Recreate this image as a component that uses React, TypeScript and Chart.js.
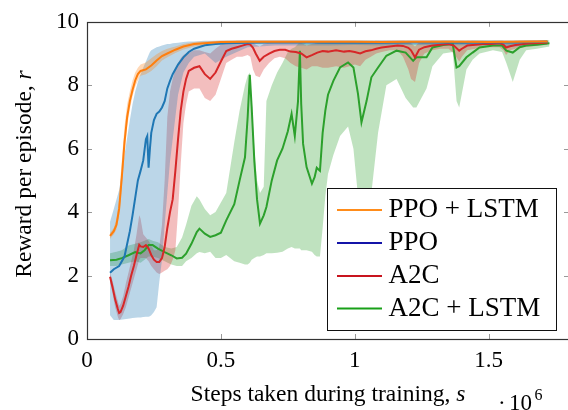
import React, { useEffect, useRef } from 'react';
import { Chart, registerables } from 'chart.js';

Chart.register(...registerables);

// ---------- data (steps in units of 10^6, reward per episode) ----------
const xTickValues = [0, 0.5, 1, 1.5];
const yTickValues = [0, 2, 4, 6, 8, 10];
const seriesNames = ['PPO + LSTM', 'PPO', 'A2C', 'A2C + LSTM'];

const orangeX = [0.086, 0.10, 0.11, 0.12, 0.125, 0.13, 0.14, 0.15, 0.16, 0.17,
  0.18, 0.19, 0.20, 0.22, 0.24, 0.26, 0.28, 0.30, 0.33, 0.36,
  0.40, 0.45, 0.50, 0.60, 0.70, 0.80, 0.90, 1.00, 1.10, 1.20,
  1.30, 1.40, 1.50, 1.60, 1.72];
const orangeY = [3.25, 3.4, 3.6, 4.1, 4.6, 5.1, 6.2, 7.0, 7.5, 7.85,
  8.15, 8.35, 8.45, 8.5, 8.62, 8.78, 8.92, 9.0, 9.12, 9.22,
  9.3, 9.33, 9.36, 9.37, 9.37, 9.37, 9.37, 9.37, 9.36, 9.37,
  9.37, 9.37, 9.36, 9.37, 9.38];
const orangeLo = [3.15, 3.3, 3.45, 3.85, 4.3, 4.8, 5.8, 6.7, 7.25, 7.65,
  7.95, 8.15, 8.3, 8.35, 8.45, 8.6, 8.78, 8.88, 9.02, 9.13,
  9.22, 9.27, 9.31, 9.33, 9.33, 9.33, 9.33, 9.33, 9.32, 9.33,
  9.33, 9.33, 9.32, 9.33, 9.34];
const orangeHi = [3.35, 3.5, 3.8, 4.4, 5.1, 5.6, 6.7, 7.4, 7.8, 8.15,
  8.4, 8.55, 8.65, 8.72, 8.85, 8.98, 9.08, 9.15, 9.22, 9.3,
  9.36, 9.39, 9.41, 9.41, 9.41, 9.41, 9.41, 9.41, 9.4, 9.41,
  9.41, 9.41, 9.4, 9.41, 9.42];

const blueX = [0.086, 0.10, 0.12, 0.14, 0.16, 0.17, 0.18, 0.19, 0.20, 0.21,
  0.22, 0.225, 0.23, 0.235, 0.24, 0.25, 0.26, 0.27, 0.28, 0.29,
  0.30, 0.31, 0.32, 0.34, 0.36, 0.38, 0.40, 0.44, 0.48, 0.52,
  0.60, 0.70, 0.80, 0.90, 1.00, 1.10, 1.20, 1.30, 1.40, 1.50,
  1.60, 1.72];
const blueY = [2.09, 2.2, 2.3, 2.6, 3.4, 3.9, 4.45, 5.0, 5.3, 5.63,
  6.3, 6.4, 5.4, 6.0, 6.5, 6.9, 7.1, 7.17, 7.3, 7.5,
  7.9, 8.14, 8.35, 8.65, 8.88, 9.05, 9.15, 9.26, 9.3, 9.32,
  9.34, 9.35, 9.35, 9.34, 9.35, 9.34, 9.35, 9.35, 9.34, 9.35,
  9.35, 9.37];
const blueLo = [0.75, 0.6, 0.6, 0.62, 0.65, 0.66, 0.67, 0.68, 0.68, 0.69,
  0.7, 0.7, 0.7, 0.72, 0.75, 0.85, 1.0, 1.8, 2.5, 3.6,
  4.6, 5.6, 6.3, 7.7, 8.4, 8.7, 8.9, 9.0, 8.7, 8.9,
  9.2, 9.25, 9.25, 9.25, 9.27, 9.25, 9.27, 9.26, 9.26, 9.25,
  9.22, 9.3];
const blueHi = [3.7, 4.1, 4.7, 5.8, 6.9, 7.4, 7.8, 8.1, 8.35, 8.55,
  8.75, 8.85, 8.95, 9.05, 9.1, 9.15, 9.2, 9.22, 9.25, 9.28,
  9.3, 9.3, 9.32, 9.34, 9.36, 9.38, 9.38, 9.4, 9.4, 9.41,
  9.42, 9.42, 9.42, 9.42, 9.42, 9.42, 9.42, 9.42, 9.42, 9.42,
  9.42, 9.43];

const redX = [0.086, 0.095, 0.105, 0.115, 0.12, 0.125, 0.135, 0.145, 0.155, 0.165,
  0.175, 0.185, 0.195, 0.20, 0.21, 0.22, 0.23, 0.24, 0.25, 0.26,
  0.27, 0.28, 0.29, 0.30, 0.31, 0.32, 0.33, 0.34, 0.35, 0.36,
  0.37, 0.38, 0.40, 0.42, 0.44, 0.46, 0.48, 0.50, 0.52, 0.54,
  0.56, 0.58, 0.60, 0.61, 0.62, 0.63, 0.645, 0.66, 0.68, 0.70,
  0.72, 0.74, 0.76, 0.78, 0.80, 0.82, 0.84, 0.86, 0.88, 0.90,
  0.93, 0.96, 0.98, 1.00, 1.02, 1.04, 1.06, 1.08, 1.10, 1.13,
  1.16, 1.18, 1.20, 1.21, 1.225, 1.24, 1.26, 1.29, 1.32, 1.35,
  1.37, 1.39, 1.40, 1.42, 1.45, 1.48, 1.51, 1.54, 1.555, 1.565,
  1.58, 1.60, 1.63, 1.66, 1.69, 1.72];
const redY = [1.96, 1.65, 1.25, 0.95, 0.82, 0.85, 1.05, 1.35, 1.65, 2.0,
  2.3, 2.65, 2.97, 2.92, 2.9, 2.96, 2.85, 2.65, 2.5, 2.43,
  2.43, 2.55, 2.9, 3.5, 4.0, 4.4, 5.3, 6.3, 7.2, 7.8,
  8.2, 8.45, 8.55, 8.6, 8.35, 8.2, 8.4, 8.75, 9.08, 9.15,
  9.2, 9.25, 9.3, 9.28, 9.18, 9.0, 8.77, 8.9, 9.0, 9.08,
  9.12, 9.12, 9.06, 9.05, 9.0, 8.88, 8.95, 9.03, 9.08, 9.06,
  9.1, 9.06, 9.08, 9.05, 9.0, 9.07, 9.1, 9.15, 9.19, 9.22,
  9.25, 9.24, 9.18, 9.1, 8.88, 9.12, 9.2, 9.25, 9.28, 9.3,
  9.25, 9.09, 9.15, 9.25, 9.28, 9.3, 9.3, 9.32, 9.28, 9.19,
  9.23, 9.27, 9.3, 9.32, 9.33, 9.35];
const redLo = [1.8, 1.45, 1.0, 0.7, 0.6, 0.62, 0.78, 1.0, 1.3, 1.6,
  1.9, 2.2, 2.5, 2.55, 2.55, 2.55, 2.45, 2.3, 2.2, 2.1,
  2.05, 2.1, 2.15, 2.2, 2.3, 2.5, 2.8, 4.0, 5.5, 6.8,
  7.4, 7.8, 7.9, 7.9, 7.6, 7.5, 7.7, 8.2, 8.7, 8.8,
  8.9, 8.9, 8.95, 8.9, 8.5, 8.3, 8.25, 8.5, 8.7, 8.85,
  8.9, 8.85, 8.7, 8.6, 8.55, 8.5, 8.6, 8.6, 8.55, 8.55,
  8.6, 8.55, 8.6, 8.65, 8.6, 8.8, 8.9, 9.0, 9.05, 9.1,
  9.1, 8.9, 8.5, 8.2, 8.1, 8.7, 9.0, 9.1, 9.15, 9.15,
  9.0, 8.75, 8.9, 9.1, 9.15, 9.2, 9.2, 9.2, 9.1, 8.95,
  9.1, 9.15, 9.2, 9.22, 9.25, 9.28];
const redHi = [2.1, 1.85, 1.5, 1.2, 1.05, 1.1, 1.35, 1.75, 2.1, 2.45,
  2.8, 3.3, 3.9, 3.8, 3.3, 3.2, 3.1, 2.95, 2.8, 2.8,
  2.9, 3.6, 5.0, 7.0, 7.8, 8.2, 8.5, 8.7, 8.85, 8.95,
  9.0, 9.02, 9.1, 9.1, 9.05, 9.0, 9.15, 9.28, 9.35, 9.38,
  9.4, 9.4, 9.4, 9.4, 9.36, 9.28, 9.22, 9.3, 9.35, 9.38,
  9.38, 9.38, 9.36, 9.35, 9.33, 9.25, 9.3, 9.35, 9.38, 9.38,
  9.38, 9.38, 9.38, 9.37, 9.35, 9.37, 9.38, 9.4, 9.4, 9.4,
  9.4, 9.4, 9.38, 9.32, 9.22, 9.35, 9.38, 9.4, 9.4, 9.4,
  9.4, 9.3, 9.35, 9.4, 9.4, 9.4, 9.4, 9.4, 9.4, 9.35,
  9.38, 9.4, 9.4, 9.41, 9.41, 9.42];

const greenX = [0.086, 0.11, 0.13, 0.155, 0.18, 0.20, 0.215, 0.23, 0.245, 0.265,
  0.29, 0.315, 0.335, 0.355, 0.37, 0.39, 0.41, 0.42, 0.44, 0.46,
  0.48, 0.50, 0.52, 0.55, 0.57, 0.59, 0.60, 0.608, 0.615, 0.625,
  0.635, 0.646, 0.66, 0.67, 0.69, 0.71, 0.73, 0.75, 0.764, 0.776,
  0.788, 0.795, 0.80, 0.807, 0.82, 0.84, 0.85, 0.858, 0.87, 0.88,
  0.89, 0.90, 0.92, 0.945, 0.975, 0.995, 1.012, 1.025, 1.044, 1.062,
  1.087, 1.118, 1.156, 1.19, 1.218, 1.23, 1.268, 1.29, 1.33, 1.366,
  1.38, 1.39, 1.417, 1.44, 1.466, 1.516, 1.55, 1.566, 1.59, 1.616,
  1.64, 1.68, 1.727];
const greenY = [2.48, 2.5, 2.55, 2.64, 2.74, 2.7, 2.8, 2.96, 2.96, 2.85,
  2.74, 2.64, 2.54, 2.56, 2.69, 3.0, 3.37, 3.48, 3.32, 3.22,
  3.27, 3.35, 3.74, 4.25, 5.0, 5.73, 7.0, 8.33, 7.3, 5.6,
  4.4, 3.64, 3.9, 4.16, 5.0, 5.63, 6.0, 6.55, 7.1, 6.4,
  7.5, 9.09, 7.4, 6.15, 5.42, 4.9, 5.1, 5.4, 5.3, 6.5,
  7.2, 7.7, 8.14, 8.56, 8.72, 8.56, 7.73, 6.83, 7.5, 8.25,
  8.56, 8.93, 9.09, 9.03, 8.77, 8.88, 8.88, 9.19, 9.27, 9.3,
  8.56, 8.6, 8.88, 9.03, 9.19, 9.25, 9.25, 9.09, 9.03, 9.2,
  9.25, 9.28, 9.32];
const greenLo = [2.3, 2.3, 2.35, 2.4, 2.45, 2.4, 2.5, 2.6, 2.6, 2.55,
  2.45, 2.35, 2.3, 2.3, 2.45, 2.55, 2.7, 2.74, 2.7, 2.75,
  2.55, 2.55, 2.65, 2.45, 2.4, 2.35, 2.35, 2.4, 2.5, 2.55,
  2.6, 2.6, 2.65, 2.7, 2.7, 2.72, 2.75, 2.85, 2.9, 2.85,
  2.85, 2.85, 2.8, 2.8, 2.8, 2.75, 2.65, 2.6, 2.6, 3.5,
  4.5, 5.2, 5.8, 6.4, 6.7, 6.0, 4.5, 3.8, 4.0, 4.6,
  6.5, 8.0, 8.2, 7.6, 7.3, 7.3, 7.9, 8.6, 9.0, 9.05,
  7.5, 7.3, 8.5, 8.8, 9.0, 9.1, 9.05, 8.7, 8.1, 8.8,
  9.1, 9.15, 9.22];
const greenHi = [2.7, 2.75, 2.8, 2.95, 3.0, 3.05, 3.1, 3.15, 3.1, 3.05,
  2.9, 2.85, 2.9, 3.2, 3.6, 4.2, 4.5, 4.4, 4.1, 3.9,
  4.0, 4.3, 4.6, 6.2, 7.2, 8.0, 8.3, 8.4, 7.6, 6.0,
  5.0, 4.6, 4.8, 7.5, 8.0, 8.4, 8.7, 9.05, 9.15, 9.2,
  9.3, 9.38, 9.38, 9.35, 9.3, 9.3, 9.3, 9.32, 9.35, 9.38,
  9.38, 9.38, 9.38, 9.38, 9.38, 9.38, 9.38, 9.38, 9.38, 9.38,
  9.38, 9.38, 9.38, 9.35, 9.3, 9.3, 9.35, 9.38, 9.4, 9.4,
  9.38, 9.38, 9.38, 9.4, 9.4, 9.4, 9.4, 9.38, 9.38, 9.4,
  9.4, 9.4, 9.42];

// ---------- styles ----------
const FONT = '"Liberation Serif", serif';
const lineColors = ['#ff7f0e', '#1f77b4', '#d62728', '#2ca02c'];
const bandColors = ['rgba(255,127,14,0.3)', 'rgba(31,119,180,0.3)', 'rgba(214,39,40,0.3)', 'rgba(44,160,44,0.3)'];
const legendColors = ['#ff8c1a', '#1414a8', '#c8141e', '#18a018'];

export default function App() {
  const ref = useRef<HTMLCanvasElement>(null);

  useEffect(() => {
    const canvas = ref.current;
    if (!canvas) return;
    const pts = (xs: number[], ys: number[]) => xs.map((x, i) => ({ x, y: ys[i] }));
    const line = (i: number, xs: number[], ys: number[]) => ({
      label: seriesNames[i], data: pts(xs, ys), borderColor: lineColors[i], borderWidth: 2,
      pointRadius: 0, fill: false, tension: 0,
    });
    const lo = (xs: number[], ys: number[]) => ({
      label: '', data: pts(xs, ys), borderWidth: 0, borderColor: 'rgba(0,0,0,0)', pointRadius: 0, fill: false,
    });
    const hi = (i: number, xs: number[], ys: number[], target: number) => ({
      label: '', data: pts(xs, ys), borderWidth: 0, borderColor: 'rgba(0,0,0,0)', pointRadius: 0,
      fill: { target }, backgroundColor: bandColors[i],
    });

    const datasets: any[] = [
      line(0, orangeX, orangeY),
      line(1, blueX, blueY),
      line(2, redX, redY),
      line(3, greenX, greenY),
      lo(orangeX, orangeLo), hi(0, orangeX, orangeHi, 4),
      lo(blueX, blueLo), hi(1, blueX, blueHi, 6),
      lo(redX, redLo), hi(2, redX, redHi, 8),
      lo(greenX, greenLo), hi(3, greenX, greenHi, 10),
    ];

    const decor = {
      id: 'decor',
      afterDraw(chart: any) {
        const ctx = chart.ctx;
        const a = chart.chartArea;
        const sx = chart.scales.x;
        const sy = chart.scales.y;
        ctx.save();
        // tick marks (inward, grey)
        ctx.strokeStyle = '#999';
        ctx.lineWidth = 1;
        xTickValues.forEach((v) => {
          if (v === 0) return;
          const px = Math.round(sx.getPixelForValue(v)) + 0.5;
          ctx.beginPath();
          ctx.moveTo(px, a.bottom); ctx.lineTo(px, a.bottom - 5);
          ctx.moveTo(px, a.top); ctx.lineTo(px, a.top + 5);
          ctx.stroke();
        });
        yTickValues.forEach((v) => {
          if (v === 0 || v === 10) return;
          const py = Math.round(sy.getPixelForValue(v)) + 0.5;
          ctx.beginPath();
          ctx.moveTo(a.left, py); ctx.lineTo(a.left + 5, py);
          ctx.moveTo(a.right, py); ctx.lineTo(a.right - 5, py);
          ctx.stroke();
        });
        // frame
        ctx.strokeStyle = '#333';
        ctx.lineWidth = 1.2;
        ctx.strokeRect(Math.round(a.left) + 0.5, Math.round(a.top) + 0.5,
          Math.round(a.right - a.left), Math.round(a.bottom - a.top));

        // legend
        const lx = 327.5, ly = 188.5, lw = 229, lh = 142;
        ctx.fillStyle = '#fff';
        ctx.fillRect(lx, ly, lw, lh);
        ctx.strokeStyle = '#111';
        ctx.lineWidth = 1;
        ctx.strokeRect(lx, ly, lw, lh);
        const rows = [210, 243, 276, 308.5];
        ctx.font = `27px ${FONT}`;
        ctx.textAlign = 'left';
        ctx.textBaseline = 'alphabetic';
        seriesNames.forEach((name, i) => {
          ctx.strokeStyle = legendColors[i];
          ctx.lineWidth = 2;
          ctx.beginPath();
          ctx.moveTo(337, rows[i]); ctx.lineTo(382, rows[i]);
          ctx.stroke();
          ctx.fillStyle = '#000';
          ctx.fillText(name, 388.5, rows[i] + 7);
        });

        // x axis title
        ctx.fillStyle = '#000';
        const xt1 = 'Steps taken during training, ';
        const xt2 = 's';
        ctx.font = `23.5px ${FONT}`;
        const w1 = ctx.measureText(xt1).width;
        ctx.font = `italic 23.5px ${FONT}`;
        const w2 = ctx.measureText(xt2).width;
        const cx = (a.left + a.right) / 2;
        const startX = cx - (w1 + w2) / 2;
        ctx.font = `23.5px ${FONT}`;
        ctx.fillText(xt1, startX, 401);
        ctx.font = `italic 23.5px ${FONT}`;
        ctx.fillText(xt2, startX + w1, 401);

        // ·10^6
        ctx.font = `23px ${FONT}`;
        ctx.fillText('\u00b7', 498, 410);
        ctx.fillText('10', 509, 410);
        ctx.font = `16px ${FONT}`;
        ctx.fillText('6', 534.5, 400);

        // y axis title
        const yt1 = 'Reward per episode, ';
        const yt2 = 'r';
        ctx.font = `23.5px ${FONT}`;
        const v1 = ctx.measureText(yt1).width;
        ctx.font = `italic 23.5px ${FONT}`;
        const v2 = ctx.measureText(yt2).width;
        ctx.translate(31, 174);
        ctx.rotate(-Math.PI / 2);
        const sv = -(v1 + v2) / 2;
        ctx.font = `23.5px ${FONT}`;
        ctx.fillText(yt1, sv, 0);
        ctx.font = `italic 23.5px ${FONT}`;
        ctx.fillText(yt2, sv + v1, 0);
        ctx.restore();
      },
    };

    const chart = new Chart(canvas, {
      type: 'line',
      data: { datasets },
      options: {
        animation: false,
        responsive: false,
        maintainAspectRatio: false,
        devicePixelRatio: 1,
        layout: { padding: { top: 21, right: 11, left: 0, bottom: 0 } },
        plugins: {
          legend: { display: false },
          tooltip: { enabled: false },
          filler: { drawTime: 'beforeDatasetsDraw' },
        },
        scales: {
          x: {
            type: 'linear',
            min: 0,
            max: 1.8,
            grid: { display: false, drawTicks: false },
            border: { display: false },
            afterBuildTicks: (axis: any) => { axis.ticks = xTickValues.map((v) => ({ value: v })); },
            afterFit: (axis: any) => { axis.height = 71; },
            ticks: {
              padding: 8,
              color: '#000',
              font: { family: FONT, size: 23 },
              maxRotation: 0,
              callback: (v: any) => String(v),
            },
          },
          y: {
            type: 'linear',
            min: 0,
            max: 10,
            grid: { display: false, drawTicks: false },
            border: { display: false },
            afterBuildTicks: (axis: any) => { axis.ticks = yTickValues.map((v) => ({ value: v })); },
            afterFit: (axis: any) => { axis.width = 87; },
            ticks: {
              padding: 8,
              color: '#000',
              font: { family: FONT, size: 23 },
              callback: (v: any) => String(v),
            },
          },
        },
      },
      plugins: [decor],
    } as any);

    // redraw once the serif face is surely available
    let alive = true;
    const redraw = () => { if (alive) chart.update('none'); };
    const fs: any = (document as any).fonts;
    if (fs && fs.load) {
      Promise.all([
        fs.load('23px "Liberation Serif"'),
        fs.load('italic 23px "Liberation Serif"'),
      ]).then(redraw, redraw);
    }
    const t1 = setTimeout(redraw, 100);

    return () => {
      alive = false;
      clearTimeout(t1);
      chart.destroy();
    };
  }, []);

  return (
    <div style={{ position: 'fixed', left: 0, top: 0, width: 568, height: 410, overflow: 'hidden', background: '#fff' }}>
      <canvas ref={ref} width={580} height={410} style={{ display: 'block' }} />
    </div>
  );
}
